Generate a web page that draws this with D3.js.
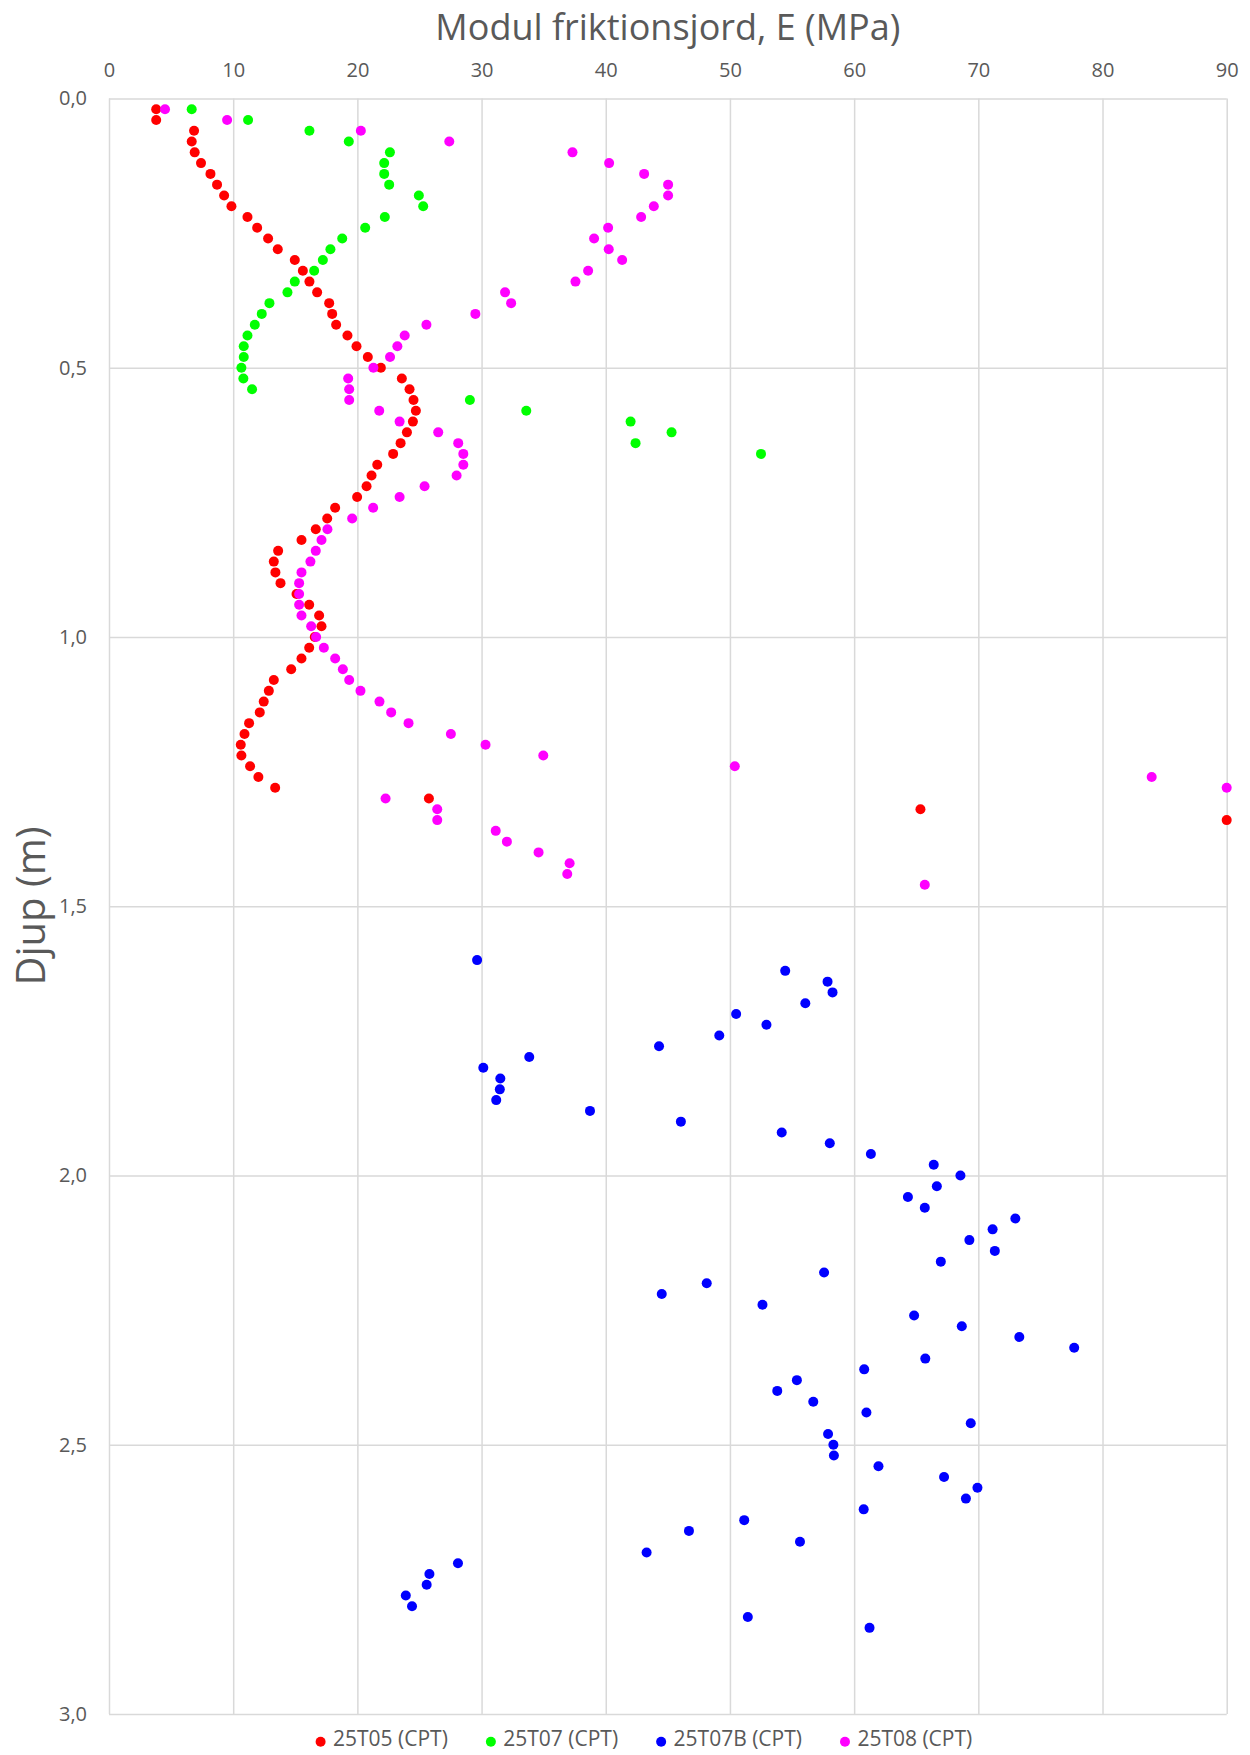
<!DOCTYPE html>
<html>
<head>
<meta charset="utf-8">
<script src="https://cdn.jsdelivr.net/npm/d3@7"></script>
<style>
body{margin:0;background:#fff;}
svg text{font-family:"Open Sans",sans-serif;fill:#595959;}
</style>
</head>
<body>
<svg id="chart" width="1250" height="1755"></svg>
<script>
var xTicks = [0,10,20,30,40,50,60,70,80,90];
var yTicks = [0,0.5,1,1.5,2,2.5,3];
var seriesNames = ["25T05 (CPT)","25T07 (CPT)","25T07B (CPT)","25T08 (CPT)"];
var seriesColors = ["#ff0000","#00ff00","#0000ff","#ff00ff"];

// 25T05
var depth05 = [0.02,0.04,0.06,0.08,0.10,0.12,0.14,0.16,0.18,0.20,0.22,0.24,0.26,0.28,0.30,0.32,0.34,0.36,0.38,0.40,
    0.42,0.44,0.46,0.48,0.50,0.52,0.54,0.56,0.58,0.60,0.62,0.64,0.66,0.68,0.70,0.72,0.74,0.76,0.78,0.80,
    0.82,0.84,0.86,0.88,0.90,0.92,0.94,0.96,0.98,1.00,1.02,1.04,1.06,1.08,1.10,1.12,1.14,1.16,1.18,1.20,
    1.22,1.24,1.26,1.28,1.30,1.32,1.34];
var e05 = [3.8,3.8,6.85,6.66,6.9,7.41,8.17,8.7,9.27,9.86,11.15,11.93,12.81,13.59,14.96,15.61,16.14,16.76,17.73,17.97,
    18.29,19.2,19.93,20.84,21.89,23.58,24.2,24.52,24.71,24.47,23.99,23.48,22.88,21.6,21.14,20.74,19.98,18.21,17.57,16.65,
    15.5,13.62,13.27,13.4,13.81,15.1,16.12,16.92,17.11,16.57,16.12,15.5,14.67,13.27,12.87,12.46,12.14,11.28,10.91,10.61,
    10.66,11.36,12.03,13.38,25.76,65.34,90];

// 25T07
var depth07 = [0.02,0.04,0.06,0.08,0.10,0.12,0.14,0.16,0.18,0.20,0.22,0.24,0.26,0.28,0.30,0.32,0.34,0.36,0.38,0.40,
    0.42,0.44,0.46,0.48,0.50,0.52,0.54,0.56,0.58,0.60,0.62,0.64,0.66];
var e07 = [6.66,11.2,16.14,19.31,22.62,22.16,22.16,22.56,24.95,25.3,22.21,20.63,18.78,17.83,17.22,16.52,14.96,14.37,12.92,12.3,
    11.74,11.15,10.85,10.85,10.66,10.82,11.52,29.06,33.6,42.0,45.3,42.4,52.5];

// 25T07B
var depth07B = [1.60,1.62,1.64,1.66,1.68,1.70,1.72,1.74,1.76,1.78,1.80,1.82,1.84,1.86,1.88,1.90,1.92,1.94,1.96,1.98,
    2.00,2.02,2.04,2.06,2.08,2.10,2.12,2.14,2.16,2.18,2.20,2.22,2.24,2.26,2.28,2.30,2.32,2.34,2.36,2.38,
    2.40,2.42,2.44,2.46,2.48,2.50,2.52,2.54,2.56,2.58,2.60,2.62,2.64,2.66,2.68,2.70,2.72,2.74,2.76,2.78,
    2.80,2.82,2.84];
var e07B = [29.64,54.45,57.86,58.26,56.07,50.5,52.94,49.14,44.29,33.84,30.14,31.51,31.47,31.18,38.73,46.05,54.17,58.04,61.35,66.41,
    68.56,66.66,64.33,65.69,72.98,71.15,69.28,71.33,66.98,57.58,48.13,44.51,52.62,64.83,68.67,73.3,77.72,65.73,60.81,55.39,
    53.81,56.71,60.99,69.39,57.9,58.33,58.37,61.96,67.24,69.93,69.0,60.77,51.15,46.7,55.64,43.29,28.1,25.8,25.58,23.9,
    24.4,51.44,61.24];

// 25T08
var depth08 = [0.02,0.04,0.06,0.08,0.10,0.12,0.14,0.16,0.18,0.20,0.22,0.24,0.26,0.28,0.30,0.32,0.34,0.36,0.38,0.40,
    0.42,0.44,0.46,0.48,0.50,0.52,0.54,0.56,0.58,0.60,0.62,0.64,0.66,0.68,0.70,0.72,0.74,0.76,0.78,0.80,
    0.82,0.84,0.86,0.88,0.90,0.92,0.94,0.96,0.98,1.00,1.02,1.04,1.06,1.08,1.10,1.12,1.14,1.16,1.18,1.20,
    1.22,1.24,1.26,1.28,1.30,1.32,1.34,1.36,1.38,1.40,1.42,1.44,1.46];
var e08 = [4.51,9.51,20.28,27.4,37.32,40.27,43.09,45.02,45.02,43.87,42.85,40.19,39.06,40.24,41.32,38.58,37.56,31.89,32.38,29.5,
    25.56,23.81,23.22,22.63,21.29,19.26,19.34,19.34,21.76,23.4,26.51,28.12,28.53,28.53,27.99,25.41,23.4,21.27,19.58,17.59,
    17.11,16.65,16.22,15.5,15.31,15.31,15.31,15.5,16.28,16.68,17.3,18.21,18.83,19.34,20.25,21.78,22.72,24.12,27.53,30.32,
    34.97,50.39,83.96,90,22.27,26.43,26.43,31.14,32.04,34.59,37.09,36.9,65.69];

var seriesDepths = [depth05, depth07, depth07B, depth08];
var seriesValues = [e05, e07, e07B, e08];

var plotLeft = 109, plotRight = 1226.7, plotTop = 98.5, plotBottom = 1714;
var gridColor = "#d9d9d9";

var svg = d3.select('svg#chart');
var x = d3.scaleLinear().domain([0,90]).range([plotLeft,plotRight]);
var y = d3.scaleLinear().domain([0,3]).range([plotTop,plotBottom]);
var sv = d3.formatLocale({decimal:",",thousands:" ",grouping:[3],currency:["",""]});

var styleAxis = function(g){
    g.select('.domain').remove();
    g.selectAll('.tick line').attr('stroke',gridColor).attr('stroke-width',1.5);
    g.selectAll('.tick text').attr('font-family','"Open Sans",sans-serif').attr('font-size',20).attr('fill','#595959');
}

svg.append('g')
    .attr('transform','translate(0,'+plotTop+')')
    .call(d3.axisTop(x).tickValues(xTicks).tickSize(-(plotBottom-plotTop)).tickPadding(21.5).tickFormat(d3.format("d")))
    .call(styleAxis);

svg.append('g')
    .attr('transform','translate('+plotLeft+',0)')
    .call(d3.axisLeft(y).tickValues(yTicks).tickSize(-(plotRight-plotLeft)).tickPadding(22).tickFormat(sv.format(".1f")))
    .call(styleAxis);

// points, later series on top
seriesValues.forEach(function(vals, s){
    var pts = vals.map(function(v,i){ return {e:v, d:seriesDepths[s][i]}; });
    svg.append('g').selectAll('circle')
        .data(pts)
        .enter()
        .append('circle')
        .attr('cx',function(p){return x(p.e)})
        .attr('cy',function(p){return y(p.d)})
        .attr('r',5)
        .attr('fill',seriesColors[s]);
});

svg.append('text')
    .attr('x',(plotLeft+plotRight)/2)
    .attr('y',39.5)
    .attr('text-anchor','middle')
    .attr('font-size',36)
    .text('Modul friktionsjord, E (MPa)');

svg.append('text')
    .attr('transform','translate(45,906) rotate(-90)')
    .attr('text-anchor','middle')
    .attr('font-size',40)
    .text('Djup (m)');

// legend
var legend = svg.append('g').attr('class','legend');
var lx = 320.6;
seriesNames.forEach(function(name, s){
    legend.append('circle')
        .attr('cx',lx)
        .attr('cy',1741.7)
        .attr('r',5)
        .attr('fill',seriesColors[s]);
    var t = legend.append('text')
        .attr('x',lx+12.4)
        .attr('y',1746)
        .attr('font-size',21)
        .text(name);
    lx = lx + 12.4 + t.node().getComputedTextLength() + 43;
});
</script>
</body>
</html>
